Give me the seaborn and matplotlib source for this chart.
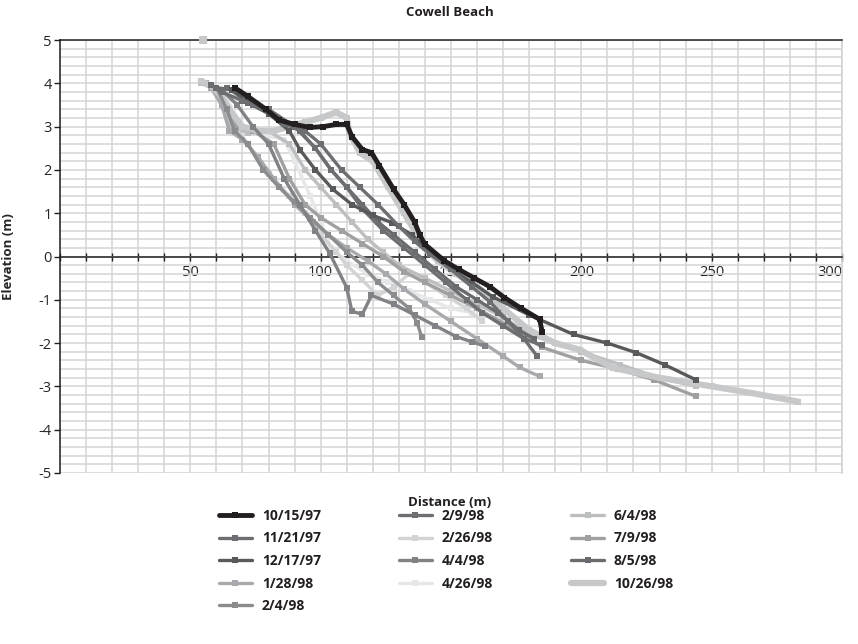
import matplotlib
matplotlib.use('Agg')
import matplotlib.pyplot as plt
import numpy as np
import pandas as pd
import seaborn as sns
from matplotlib.ticker import MultipleLocator

sns.set_theme(style='white')
plt.rcParams['font.family'] = ['Open Sans', 'DejaVu Sans']
plt.rcParams['axes.unicode_minus'] = False

# survey dates (legend order) and their line colours
dates = ['10/15/97', '11/21/97', '12/17/97', '1/28/98', '2/4/98', '2/9/98', '2/26/98',
         '4/4/98', '4/26/98', '6/4/98', '7/9/98', '8/5/98', '10/26/98']
colors = ['#231f20', '#6d6e71', '#58595b', '#a7a9ac', '#8a8c8e', '#6d6e71', '#d1d3d4',
          '#808285', '#e6e7e8', '#bcbec0', '#a0a0a0', '#6a6b6e', '#c7c8ca']
widths = [3.5, 2.4, 2.4, 2.4, 2.4, 2.4, 2.4, 2.4, 2.4, 2.4, 2.4, 2.4, 4.5]

# profile distance (m) and elevation (m) for each survey
x_101597 = [67, 72, 79, 84, 90, 96, 101, 106, 110, 112, 116, 119.5, 122.5, 128, 132, 136, 138, 140,
            147.5, 153, 159, 165, 170.5, 177, 184, 185]
y_101597 = [3.9, 3.7, 3.4, 3.15, 3.05, 2.98, 3.0, 3.05, 3.05, 2.77, 2.47, 2.4, 2.1, 1.55, 1.2, 0.8, 0.5, 0.28,
            -0.1, -0.3, -0.5, -0.7, -0.95, -1.2, -1.45, -1.75]
x_112197 = [58, 62, 70, 80, 86, 94, 100, 108, 115, 122, 130, 136, 142, 150, 158, 165, 172, 178, 183]
y_112197 = [3.95, 3.8, 3.6, 3.35, 3.05, 2.9, 2.6, 2.0, 1.6, 1.2, 0.7, 0.35, 0.05, -0.3, -0.7, -1.05, -1.5, -1.9, -2.3]
x_121797 = [66, 72, 80, 88, 92, 98, 104.7, 112, 120, 127.5, 135, 142, 150, 158, 166, 180, 197, 210, 221, 232, 244]
y_121797 = [3.85, 3.6, 3.3, 2.9, 2.47, 2.0, 1.55, 1.2, 0.95, 0.78, 0.5, 0.1, -0.3, -0.6, -0.93, -1.35, -1.8,
            -2.0, -2.22, -2.5, -2.85]
x_12898 = [58, 62, 65, 70, 76, 82, 90, 97, 103, 110, 118, 125, 132, 140, 150, 160, 170, 176.3, 184]
y_12898 = [3.9, 3.5, 2.9, 2.7, 2.3, 1.8, 1.2, 0.8, 0.5, 0.2, -0.1, -0.4, -0.75, -1.1, -1.5, -1.9, -2.3, -2.56, -2.77]
x_2498 = [60, 64, 67, 72, 78, 84, 90, 96, 103, 110, 116, 122, 128, 134, 137, 138.7]
y_2498 = [3.9, 3.4, 2.9, 2.6, 2.0, 1.6, 1.25, 0.9, 0.5, 0.1, -0.2, -0.6, -0.9, -1.2, -1.53, -1.85]
x_2998 = [64, 74, 80, 90, 98, 104, 110, 116, 124, 132, 140, 148, 156, 162, 170, 178, 185]
y_2998 = [3.9, 3.5, 3.4, 3.0, 2.5, 2.0, 1.6, 1.1, 0.6, 0.2, -0.2, -0.6, -1.0, -1.3, -1.6, -1.9, -2.05]
x_22698 = [60, 66, 72, 80, 88, 94, 100, 106, 110, 116, 122, 128, 134, 140, 148, 156, 162]
y_22698 = [3.8, 3.1, 2.6, 1.9, 1.4, 1.0, 0.5, 0.1, -0.2, -0.55, -0.9, -0.7, -0.4, -0.6, -0.9, -1.2, -1.5]
x_4498 = [62, 68, 74, 80, 86, 92, 98, 103.4, 110, 112, 116, 119.5, 128, 136, 144, 152, 158, 163]
y_4498 = [3.85, 3.5, 3.0, 2.6, 1.8, 1.2, 0.6, 0.08, -0.72, -1.27, -1.33, -0.9, -1.1, -1.35, -1.6, -1.85, -1.97, -2.07]
x_42698 = [62, 70, 78, 86, 90, 96, 100, 104, 110, 118, 126, 134, 142, 150, 158]
y_42698 = [3.85, 3.0, 2.8, 2.7, 2.2, 1.4, 0.8, 0.2, -0.1, -0.4, -0.6, -0.8, -1.0, -1.2, -1.3]
x_6498 = [54, 58, 62, 66, 72, 80, 88, 94, 100, 106, 112, 118, 124, 130, 140, 150, 160, 170, 180, 190, 200,
          215, 230, 244]
y_6498 = [4.0, 3.9, 3.5, 3.0, 2.85, 2.9, 2.6, 2.0, 1.6, 1.2, 0.8, 0.4, 0.1, -0.2, -0.5, -0.8, -1.1, -1.4, -1.8,
          -2.0, -2.2, -2.5, -2.8, -3.0]
x_7998 = [56, 62, 68, 74, 82, 88, 94, 100, 108, 116, 124, 132, 140, 150, 160, 172, 185, 200, 214, 228, 244]
y_7998 = [4.0, 3.7, 3.0, 2.9, 2.6, 1.8, 1.2, 0.9, 0.6, 0.3, 0.0, -0.35, -0.6, -0.9, -1.2, -1.6, -2.1, -2.4,
          -2.6, -2.85, -3.23]
x_8598 = [60, 66, 72, 80, 86, 92, 98, 104, 110, 116, 122, 128, 136, 144, 152, 160, 168, 176, 182]
y_8598 = [3.9, 3.85, 3.55, 3.3, 3.1, 2.9, 2.5, 2.0, 1.6, 1.2, 0.8, 0.5, 0.1, -0.3, -0.7, -1.0, -1.3, -1.7, -1.9]
x_102698 = [54, 58, 62, 66, 70, 76, 82, 88, 94, 100, 106, 110, 111, 115, 120, 126, 132, 137, 140, 145, 152,
            160, 170, 180, 190, 199.3, 212, 230, 250, 265, 283]
y_102698 = [4.05, 3.95, 3.7, 3.3, 3.0, 2.9, 2.9, 3.0, 3.1, 3.2, 3.33, 3.2, 2.86, 2.4, 2.2, 1.6, 1.0, 0.5, 0.2,
            -0.1, -0.4, -0.7, -1.2, -1.7, -2.0, -2.15, -2.57, -2.8, -3.0, -3.15, -3.35]
# lone point at the top of the 10/26/98 survey
x_102698_top = [55]
y_102698_top = [5.0]

xs = [x_101597, x_112197, x_121797, x_12898, x_2498, x_2998, x_22698, x_4498, x_42698, x_6498, x_7998,
      x_8598, x_102698]
ys = [y_101597, y_112197, y_121797, y_12898, y_2498, y_2998, y_22698, y_4498, y_42698, y_6498, y_7998,
      y_8598, y_102698]

frames = []
for d, x, y in zip(dates, xs, ys):
    frames.append(pd.DataFrame({'date': d, 'distance': x, 'elevation': y}))
df = pd.concat(frames, ignore_index=True)

fig = plt.figure(figsize=(8.58, 6.44), dpi=100)
ax = fig.add_axes([60 / 858, 1 - 473 / 644, 782 / 858, 433 / 644])

# draw back to front so the dark survey sits on top
draw_order = [8, 6, 9, 3, 10, 12, 4, 7, 11, 5, 2, 1, 0]
for i in draw_order:
    sub = df[df['date'] == dates[i]]
    sns.lineplot(data=sub, x='distance', y='elevation', sort=False, estimator=None, ax=ax,
                 color=colors[i], linewidth=widths[i], marker='s', markersize=4.2,
                 markeredgewidth=0, label=dates[i], zorder=4)
sns.scatterplot(x=x_102698_top, y=y_102698_top, ax=ax, color=colors[12], marker='s', s=34,
                linewidth=0, zorder=5)
for c in ax.collections:
    c.set_clip_on(False)

ax.set_xlim(0, 300)
ax.set_ylim(-5, 5)
ax.xaxis.set_minor_locator(MultipleLocator(10))
ax.yaxis.set_major_locator(MultipleLocator(1))
ax.yaxis.set_minor_locator(MultipleLocator(0.2))
ax.set_xticks([50, 100, 150, 200, 250, 300])
ax.grid(which='both', color='#d4d4d4', linewidth=1.1)
ax.set_axisbelow(True)

ax.spines['bottom'].set_position(('data', 0))
ax.spines['bottom'].set_color('#231f20')
ax.spines['left'].set_color('#231f20')
ax.spines['top'].set_color('#231f20')
ax.spines['right'].set_color('#d4d4d4')
for s in ['bottom', 'left', 'top']:
    ax.spines[s].set_linewidth(1.1)

ax.tick_params(axis='x', which='both', direction='inout', length=6, width=1, color='#231f20',
               bottom=True, labelsize=10.5, pad=3)
ax.tick_params(axis='y', which='major', direction='out', length=4, width=1, color='#231f20',
               left=True, labelsize=10.5, pad=2)
ax.tick_params(axis='y', which='minor', left=False)
# last label sits just inside the figure edge
ax.get_xticklabels()[-1].set_horizontalalignment('right')

ax.set_xlabel('')
ax.set_ylabel('Elevation (m)', fontsize=9.5, fontweight='bold')
ax.yaxis.set_label_coords(-0.058, 0.5)
fig.text(450 / 858, 1 - 12 / 644, 'Cowell Beach', ha='center', va='center', fontsize=9.5,
         fontweight='bold', color='#231f20')
fig.text(450 / 858, 1 - 503 / 644, 'Distance (m)', ha='center', va='center', fontsize=9.5,
         fontweight='bold', color='#231f20')

handles, labels = ax.get_legend_handles_labels()
lookup = dict(zip(labels, handles))
ax.get_legend().remove()
leg = fig.legend([lookup[d] for d in dates], dates, loc='center', ncol=3,
                 bbox_to_anchor=(446 / 858, 1 - 561 / 644), frameon=False,
                 prop={'weight': 'bold', 'size': 10}, handlelength=2.4, handletextpad=0.7,
                 columnspacing=5.6, labelspacing=0.62)
for t in leg.get_texts():
    t.set_color('#231f20')

fig.savefig('out.png', dpi=100)
